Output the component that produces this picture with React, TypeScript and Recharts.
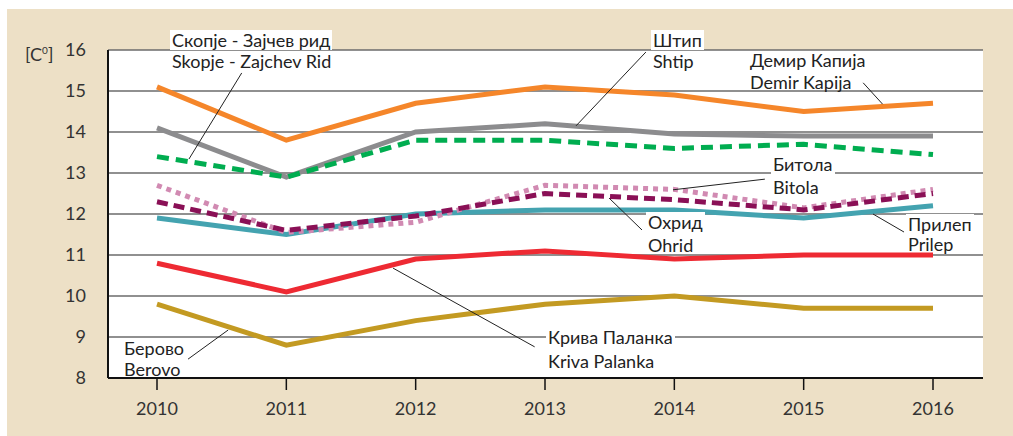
import { LineChart, Line, XAxis, YAxis, CartesianGrid, ReferenceLine } from "recharts";

const years = [2010, 2011, 2012, 2013, 2014, 2015, 2016];
const demirKapija = [15.1, 13.8, 14.7, 15.1, 14.9, 14.5, 14.7];
const shtip = [14.1, 12.9, 14.0, 14.2, 13.95, 13.9, 13.9];
const skopje = [13.4, 12.9, 13.8, 13.8, 13.6, 13.7, 13.45];
const bitola = [12.7, 11.55, 11.8, 12.7, 12.6, 12.15, 12.6];
const ohrid = [12.3, 11.6, 11.95, 12.5, 12.35, 12.1, 12.5];
const prilep = [11.9, 11.5, 12.0, 12.1, 12.1, 11.9, 12.2];
const krivaPalanka = [10.8, 10.1, 10.9, 11.1, 10.9, 11.0, 11.0];
const berovo = [9.8, 8.8, 9.4, 9.8, 10.0, 9.7, 9.7];
const yTicks = [8, 9, 10, 11, 12, 13, 14, 15, 16];

const data = years.map((year, i) => ({
  year,
  demirKapija: demirKapija[i],
  shtip: shtip[i],
  skopje: skopje[i],
  bitola: bitola[i],
  ohrid: ohrid[i],
  prilep: prilep[i],
  krivaPalanka: krivaPalanka[i],
  berovo: berovo[i],
}));

// bottom to top drawing order
const series = [
  { key: "berovo", color: "#C39A22", dash: undefined },
  { key: "krivaPalanka", color: "#EE2A33", dash: undefined },
  { key: "prilep", color: "#44A3B0", dash: undefined },
  { key: "bitola", color: "#D18AB2", dash: "5 5" },
  { key: "ohrid", color: "#8A1056", dash: "11 6" },
  { key: "shtip", color: "#8C8C8E", dash: undefined },
  { key: "skopje", color: "#00AD50", dash: "12 7" },
  { key: "demirKapija", color: "#F5862A", dash: undefined },
];

// leader lines for the callouts, in data units (year, °C)
const leaders = [
  [2010.655, 15.44, 2010.247, 13.34],
  [2013.78, 15.95, 2013.24, 14.15],
  [2015.46, 15.2, 2015.61, 14.68],
  [2014.7, 12.85, 2013.99, 12.59],
  [2013.75, 11.61, 2013.495, 12.39],
  [2015.776, 11.56, 2015.536, 12.0],
  [2012.92, 8.76, 2011.825, 10.68],
  [2010.24, 8.46, 2010.55, 9.17],
];

const notes = [
  { text: "Скопје - Зајчев рид", x: 172, y: 40, bg: true },
  { text: "Skopje - Zajchev Rid", x: 172, y: 61, bg: true },
  { text: "Штип", x: 653, y: 40, bg: true },
  { text: "Shtip", x: 653, y: 61, bg: false },
  { text: "Демир Капија", x: 750, y: 60, bg: false },
  { text: "Demir Kapija", x: 750, y: 82, bg: false },
  { text: "Битола", x: 773, y: 164, bg: true },
  { text: "Bitola", x: 773, y: 187, bg: false },
  { text: "Охрид", x: 648, y: 222, bg: true },
  { text: "Ohrid", x: 648, y: 245, bg: false },
  { text: "Прилеп", x: 908, y: 224, bg: true },
  { text: "Prilep", x: 908, y: 244, bg: false },
  { text: "Крива Паланка", x: 548, y: 337, bg: true },
  { text: "Kriva Palanka", x: 548, y: 361, bg: false },
  { text: "Берово", x: 124, y: 348, bg: false },
  { text: "Berovo", x: 124, y: 369, bg: false },
];

const font = "Lato, 'Open Sans', sans-serif";

export default function App() {
  return (
    <div style={{ position: "absolute", left: 0, top: 0, width: 1013, height: 436, background: "#fff", fontFamily: font }}>
      <div style={{ position: "absolute", left: 7, top: 9, right: 0, bottom: 0, background: "#EDE0C6" }} />
      <div style={{ position: "absolute", left: 0, top: 0 }}>
        <LineChart width={1013} height={436} data={data} margin={{ top: 50, right: 30, bottom: 18, left: 48 }}>
          <CartesianGrid vertical={false} stroke="#6b6b6b" strokeWidth={1.5} fill="#fff" fillOpacity={1} />
          <XAxis
            dataKey="year"
            type="number"
            domain={[2010, 2016]}
            ticks={years}
            padding={{ left: 49, right: 50 }}
            height={40}
            axisLine={{ stroke: "#111", strokeWidth: 2 }}
            tickLine={{ stroke: "#111", strokeWidth: 1.5 }}
            tickSize={12}
            tickMargin={12}
            tick={{ fontSize: 18, fill: "#333", fontFamily: font }}
          />
          <XAxis
            xAxisId="top"
            orientation="top"
            dataKey="year"
            type="number"
            domain={[2010, 2016]}
            padding={{ left: 49, right: 50 }}
            height={0}
            tick={false}
            tickLine={false}
            axisLine={{ stroke: "#111", strokeWidth: 1.5 }}
          />
          <YAxis
            domain={[8, 16]}
            ticks={yTicks}
            width={60}
            axisLine={{ stroke: "#111", strokeWidth: 2 }}
            tickLine={false}
            tickSize={0}
            tickMargin={22}
            tick={{ fontSize: 18, fill: "#333", fontFamily: font }}
          />
          <YAxis
            yAxisId="right"
            orientation="right"
            domain={[8, 16]}
            width={0}
            tick={false}
            tickLine={false}
            axisLine={{ stroke: "#111", strokeWidth: 2 }}
          />
          {series.map((s) => (
            <Line
              key={s.key}
              dataKey={s.key}
              type="linear"
              stroke={s.color}
              strokeWidth={5}
              strokeDasharray={s.dash}
              dot={false}
              activeDot={false}
              isAnimationActive={false}
            />
          ))}
          {leaders.map(([x1, y1, x2, y2], i) => (
            <ReferenceLine
              key={i}
              segment={[{ x: x1, y: y1 }, { x: x2, y: y2 }]}
              stroke="#222"
              strokeWidth={1}
              ifOverflow="visible"
            />
          ))}
        </LineChart>
      </div>
      <div style={{ position: "absolute", left: 25, top: 40, fontSize: 18, color: "#333", lineHeight: "20px" }}>
        [C<sup style={{ fontSize: 10, verticalAlign: "7px" }}>0</sup>]
      </div>
      {notes.map((n, i) => (
        <div
          key={i}
          style={{
            position: "absolute",
            left: n.x - 2,
            top: n.y - 10,
            height: 20,
            lineHeight: "20px",
            padding: "0 2px",
            fontSize: 18,
            color: "#222",
            whiteSpace: "nowrap",
            background: n.bg ? "#fff" : "transparent",
          }}
        >
          {n.text}
        </div>
      ))}
    </div>
  );
}
